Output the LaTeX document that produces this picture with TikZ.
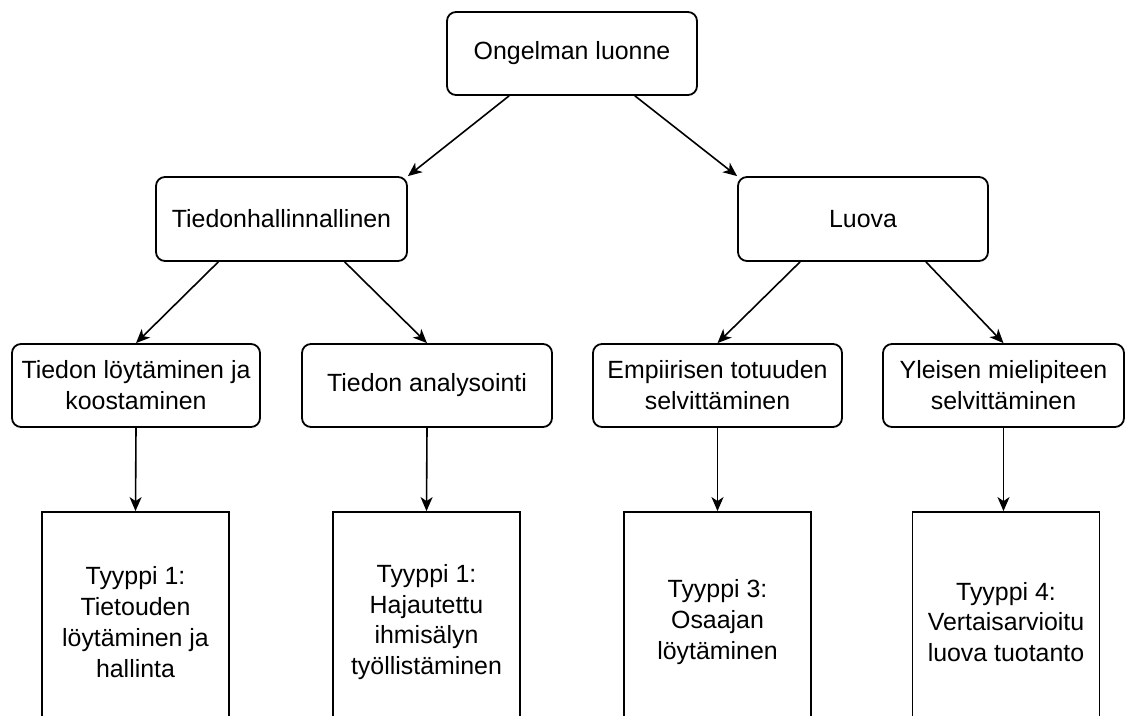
\documentclass[tikz,border=0pt]{standalone}
\usepackage{fontspec}
\setmainfont{Liberation Sans}
\usetikzlibrary{arrows.meta,calc}
\begin{document}
\begin{tikzpicture}[x=1bp,y=-1bp,
  txt/.style={align=center, inner sep=0pt, font=\fontsize{25}{31}\selectfont},
  box/.style={txt, draw=black, line width=1.8bp, rounded corners=9bp, fill=white},
  leaf/.style={txt, draw=black, line width=1.8bp, fill=white, minimum width=187bp, minimum height=220bp},
  conn/.style={line width=1.6bp, -{Stealth[length=14bp,width=12bp,inset=4bp]}}]
\useasboundingbox (0,0) rectangle (1126,716);
\clip (0,0) rectangle (1126,716);
\fill[white] (0,0) rectangle (1126,716);
% level 1
\node[box, minimum width=250bp, minimum height=83bp] (top) at (572,53.5) {Ongelman luonne};
% level 2
\node[box, minimum width=251bp, minimum height=84bp] (th) at (281.5,219) {Tiedonhallinnallinen};
\node[box, minimum width=250bp, minimum height=84bp] (lu) at (863,219) {Luova};
% level 3
\node[box, minimum width=248bp, minimum height=83bp] (a1) at (136,385.5) {Tiedon löytäminen ja\\koostaminen};
\node[box, minimum width=250bp, minimum height=83bp] (a2) at (427,385.5) {Tiedon analysointi};
\node[box, minimum width=249bp, minimum height=83bp] (a3) at (717.5,385.5) {Empiirisen totuuden\\selvittäminen};
\node[box, minimum width=241bp, minimum height=83bp] (a4) at (1003.5,385.5) {Yleisen mielipiteen\\selvittäminen};
% level 4
\node[leaf] (b1) at (135.5,622) {Tyyppi 1:\\Tietouden\\löytäminen ja\\hallinta};
\node[leaf] (b2) at (426.5,622) {Tyyppi 1:\\Hajautettu\\ihmisälyn\\työllistäminen};
\node[leaf] (b3) at (717.5,622) {Tyyppi 3:\\Osaajan\\löytäminen};
\node[leaf] (b4) at (1006,622) {Tyyppi 4:\\Vertaisarvioitu\\luova tuotanto};
% connectors
\draw[conn] ($(top.south west)!0.25!(top.south east)$) -- (th.north east);
\draw[conn] ($(top.south west)!0.75!(top.south east)$) -- (lu.north west);
\draw[conn] ($(th.south west)!0.25!(th.south east)$) -- (a1.north);
\draw[conn] ($(th.south west)!0.75!(th.south east)$) -- (a2.north);
\draw[conn] ($(lu.south west)!0.25!(lu.south east)$) -- (a3.north);
\draw[conn] ($(lu.south west)!0.75!(lu.south east)$) -- (a4.north);
\draw[conn] (a1.south) -- (b1.north);
\draw[conn] (a2.south) -- (b2.north);
\draw[conn] (a3.south) -- (b3.north);
\draw[conn] (a4.south) -- (b4.north -| a4.south);
\end{tikzpicture}
\end{document}
